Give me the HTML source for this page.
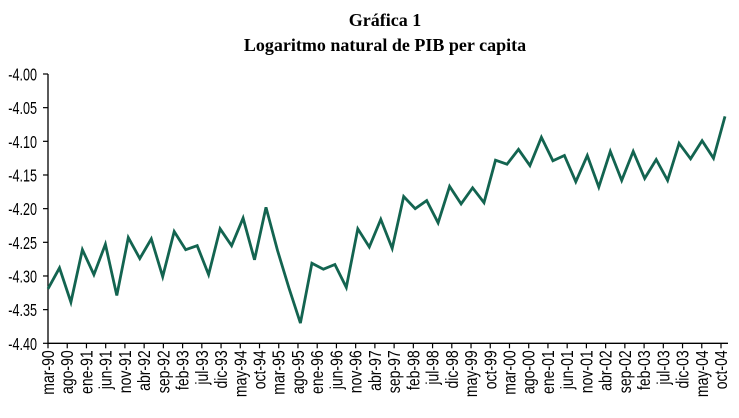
<!DOCTYPE html>
<html><head><meta charset="utf-8"><style>
body{margin:0;background:#fff;}
svg{display:block;}
</style></head><body>
<svg id="chart" width="739" height="418" xmlns="http://www.w3.org/2000/svg">
<text x="385" y="26" text-anchor="middle" font-family="Liberation Serif, serif" font-weight="bold" font-size="18">Gráfica 1</text>
<text x="385" y="51" text-anchor="middle" font-family="Liberation Serif, serif" font-weight="bold" font-size="18">Logaritmo natural de PIB per capita</text>
<g id="axes"></g>
<g id="plot"></g>
</svg>
<script>
const yTicks=[-4.40,-4.35,-4.30,-4.25,-4.20,-4.15,-4.10,-4.05,-4.00];
const xLabels=["mar-90","ago-90","ene-91","jun-91","nov-91","abr-92","sep-92","feb-93","jul-93","dic-93","may-94","oct-94","mar-95","ago-95","ene-96","jun-96","nov-96","abr-97","sep-97","feb-98","jul-98","dic-98","may-99","oct-99","mar-00","ago-00","ene-01","jun-01","nov-01","abr-02","sep-02","feb-03","jul-03","dic-03","may-04","oct-04"];
const values=[-4.319,-4.288,-4.339,-4.261,-4.298,-4.253,-4.329,-4.243,-4.274,-4.245,-4.301,-4.234,-4.261,-4.255,-4.298,-4.230,-4.255,-4.214,-4.276,-4.198,-4.262,-4.318,-4.370,-4.281,-4.290,-4.283,-4.317,-4.230,-4.257,-4.216,-4.259,-4.182,-4.200,-4.188,-4.221,-4.167,-4.193,-4.169,-4.191,-4.128,-4.134,-4.112,-4.136,-4.094,-4.129,-4.121,-4.160,-4.121,-4.168,-4.115,-4.158,-4.115,-4.155,-4.127,-4.158,-4.103,-4.126,-4.099,-4.125,-4.063];
const NS="http://www.w3.org/2000/svg";
const X0=48, X1=725, XT1=721, XA=728, Y0=343.3, Y1=74;
const yMin=-4.40,yMax=-4.00;
const yS=v=>Y0-(v-yMin)/(yMax-yMin)*(Y0-Y1);
const xS=i=>X0+i*(X1-X0)/(values.length-1);
const xT=i=>X0+i*(XT1-X0)/(xLabels.length-1);
const axes=document.getElementById('axes'),plot=document.getElementById('plot');
function mk(tag,attrs,parent){const e=document.createElementNS(NS,tag);for(const k in attrs)e.setAttribute(k,attrs[k]);parent.appendChild(e);return e;}
let l=mk('line',{x1:X0,y1:Y1,x2:X0,y2:Y0,stroke:'#000','stroke-width':1.3},axes);


l=mk('line',{x1:X0,y1:Y0,x2:XA,y2:Y0,stroke:'#000','stroke-width':1.3},axes);


yTicks.forEach(v=>{
  const y=yS(v);
  const t=mk('line',{x1:X0-5,y1:y,x2:X0,y2:y,stroke:'#000','stroke-width':1.2},axes);
  
  
  const tx=mk('text',{x:0,y:0,'text-anchor':'end','font-family':'Liberation Sans, sans-serif','font-size':18,transform:`translate(37,${y+6.5}) scale(0.7,1)`},axes);
  tx.textContent=v.toFixed(2);
  
  
});
xLabels.forEach((s,i)=>{
  const x=xT(i);
  const t=mk('line',{x1:x,y1:Y0,x2:x,y2:Y0+5,stroke:'#000','stroke-width':1.2},axes);
  
  
  const tx=mk('text',{x:0,y:0,'text-anchor':'end','font-family':'Liberation Sans, sans-serif','font-size':18,transform:`translate(${x+6},${Y0+7}) rotate(-90) scale(0.78,1)`},axes);
  tx.textContent=s;
  
  
});
const p=mk('polyline',{points:values.map((v,i)=>xS(i).toFixed(1)+','+yS(v).toFixed(1)).join(' '),fill:'none',stroke:'#136450','stroke-width':2.8,'stroke-linejoin':'miter'},plot);


</script>
</body></html>
